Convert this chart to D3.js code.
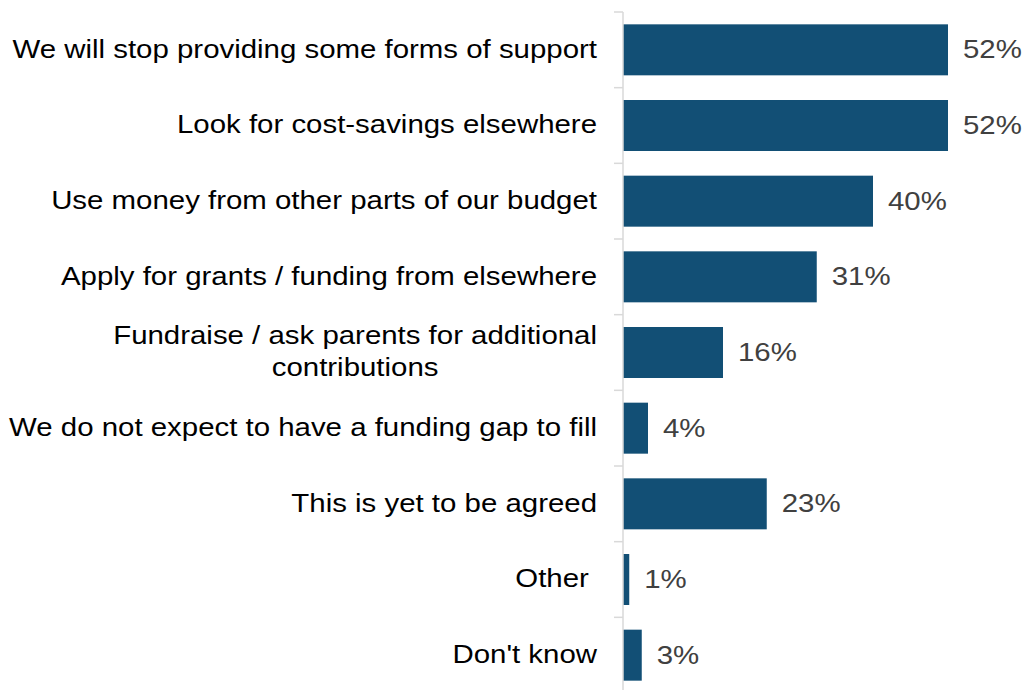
<!DOCTYPE html>
<html>
<head>
<meta charset="utf-8">
<script src="https://cdn.jsdelivr.net/npm/d3@7"></script>
<style>
  html, body { margin: 0; padding: 0; background: #fff; }
  svg { display: block; }
  text { font-family: "Liberation Sans", Arial, sans-serif; }
</style>
</head>
<body>
<svg id="chart" width="1024" height="690"></svg>
<script>
// Responses: how the funding gap will be met
const categories = [
  ["We will stop providing some forms of support"],
  ["Look for cost-savings elsewhere"],
  ["Use money from other parts of our budget"],
  ["Apply for grants / funding from elsewhere"],
  ["Fundraise / ask parents for additional", "contributions"],
  ["We do not expect to have a funding gap to fill"],
  ["This is yet to be agreed"],
  ["Other "],
  ["Don't know"]
];
const values = [52, 52, 40, 31, 16, 4, 23, 1, 3];
const valueLabels = ["52%", "52%", "40%", "31%", "16%", "4%", "23%", "1%", "3%"];

const svg = d3.select("#chart");
const axisX = 623;
const fontSize = 26.5;
const stretch = 1.11;   // horizontal text stretch

const x = d3.scaleLinear().domain([0, 52]).range([axisX, 948]);
const y = d3.scaleBand()
  .domain(d3.range(categories.length))
  .range([12, 693])
  .paddingInner(0.326)
  .paddingOuter(0.163);

// Bars
svg.append("g").selectAll("rect")
  .data(values)
  .join("rect")
  .attr("x", x(0))
  .attr("y", (d, i) => y(i))
  .attr("width", d => x(d) - x(0))
  .attr("height", y.bandwidth())
  .attr("fill", "#124f75");

// Category axis line and band-boundary ticks
const axisG = svg.append("g");
axisG.append("line")
  .attr("x1", axisX).attr("x2", axisX)
  .attr("y1", 12).attr("y2", 690)
  .attr("stroke", "#d9d9d9").attr("stroke-width", 1.5);
const step = y.step();
axisG.selectAll("line.tick")
  .data(d3.range(categories.length + 1))
  .join("line")
  .attr("class", "tick")
  .attr("x1", axisX - 9).attr("x2", axisX)
  .attr("y1", i => 12 + i * step).attr("y2", i => 12 + i * step)
  .attr("stroke", "#d9d9d9").attr("stroke-width", 1.5);

// Category labels
const lineH = 32;
const labelG = svg.append("g");
categories.forEach((lines, i) => {
  const cy = y(i) + y.bandwidth() / 2;
  const n = lines.length;
  const g = labelG.append("g")
    .attr("transform", `translate(597,${cy}) scale(${stretch},1)`);
  if (n === 1) {
    g.append("text")
      .attr("x", 0)
      .attr("y", 0)
      .attr("dy", "0.3em")
      .attr("text-anchor", "end")
      .style("white-space", "pre")
      .attr("font-size", fontSize)
      .attr("fill", "#000")
      .text(lines[0]);
  } else {
    const t = g.append("text")
      .attr("font-size", fontSize)
      .attr("fill", "#000")
      .attr("text-anchor", "middle");
    const tmp = t.append("tspan").text(lines[0]);
    const w = tmp.node().getComputedTextLength();
    tmp.remove();
    const cx = -w / 2;
    lines.forEach((ln, k) => {
      t.append("tspan")
        .attr("x", cx)
        .attr("y", (k - (n - 1) / 2) * lineH)
        .attr("dy", "0.3em")
        .text(ln);
    });
  }
});

// Value labels
svg.append("g").selectAll("g")
  .data(values)
  .join("g")
  .attr("transform", (d, i) => `translate(${x(d) + 15},${y(i) + y.bandwidth() / 2}) scale(${stretch},1)`)
  .append("text")
  .attr("dy", "0.32em")
  .attr("font-size", fontSize)
  .attr("fill", "#404040")
  .text((d, i) => valueLabels[i]);
</script>
</body>
</html>
